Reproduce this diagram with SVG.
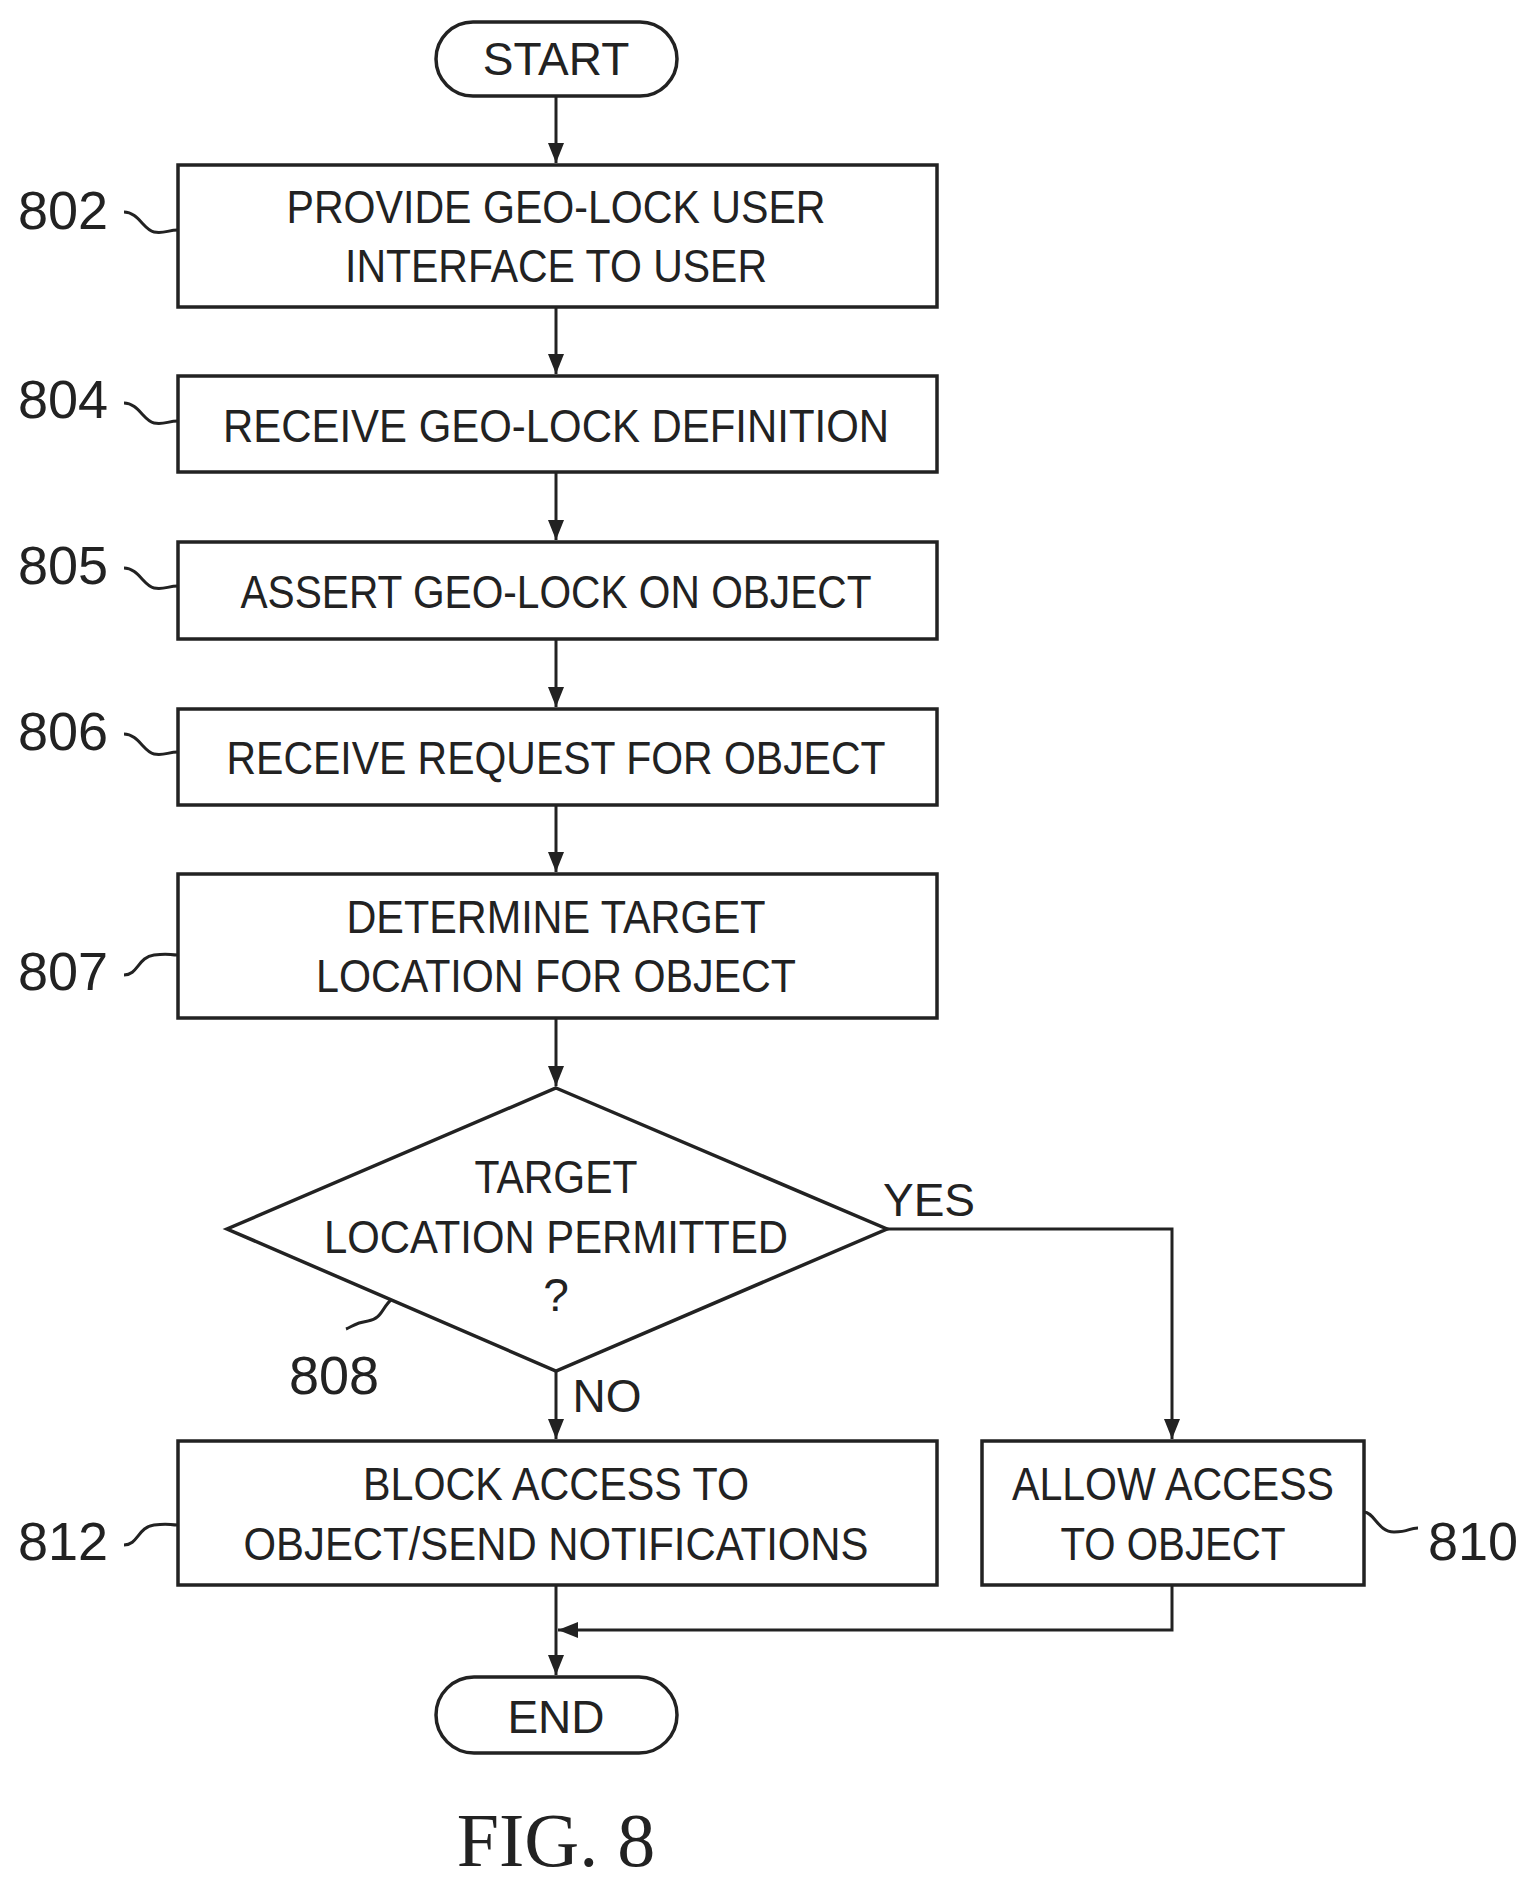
<svg xmlns="http://www.w3.org/2000/svg" width="1535" height="1886" viewBox="0 0 1535 1886">
<style>
.s{fill:#fff;stroke:#222;stroke-width:3.5}
.t{font-family:"Liberation Sans",Arial,sans-serif;font-size:46px;fill:#222;text-anchor:middle}
.r{font-family:"Liberation Sans",Arial,sans-serif;font-size:54px;fill:#222}
.c{fill:none;stroke:#222;stroke-width:3}
</style>
<defs><marker id="a" markerWidth="10" markerHeight="12" refX="9" refY="6" orient="auto" markerUnits="userSpaceOnUse" viewBox="0 0 10 12"><path d="M0,0L10,6L0,12z" fill="#222"/></marker>
<marker id="b" markerWidth="22" markerHeight="16" refX="20" refY="8" orient="auto" markerUnits="userSpaceOnUse"><path d="M0,0L20,8L0,16z" fill="#222"/></marker></defs>
<g id="connectors" class="c">
<path d="M556,96V163" marker-end="url(#b)"/>
<path d="M556,307V374" marker-end="url(#b)"/>
<path d="M556,472V540" marker-end="url(#b)"/>
<path d="M556,639V707" marker-end="url(#b)"/>
<path d="M556,805V872" marker-end="url(#b)"/>
<path d="M556,1018V1086" marker-end="url(#b)"/>
<path d="M556,1371V1439" marker-end="url(#b)"/>
<path d="M887,1229H1172V1439" marker-end="url(#b)"/>
<path d="M556,1585V1675" marker-end="url(#b)"/>
<path d="M1172,1585V1630H558" marker-end="url(#b)"/>
<path d="M124,212c14,0 20,18 30,20s14,-2 24,-2"/>
<path d="M124,403c14,0 20,18 30,20s14,-2 24,-2"/>
<path d="M124,568c14,0 20,18 30,20s14,-2 24,-2"/>
<path d="M124,734c14,0 20,18 30,20s14,-2 24,-2"/>
<path d="M124,975c14,0 14,-18 30,-20s14,0 24,0"/>
<path d="M124,1545c14,0 14,-18 30,-20s14,0 24,0"/>
<path d="M1364,1512c10,0 14,20 30,20s14,-4 24,-4"/>
<path d="M392,1299c-10,8 -10,20 -24,22s-16,6 -22,8"/>
</g>
<g id="start"><rect class="s" x="436" y="22" width="241" height="74" rx="37"/><text class="t" x="556" y="75">START</text></g>
<g id="n802"><rect class="s" x="178" y="165" width="759" height="142"/><text class="t" x="556" y="223" textLength="539" lengthAdjust="spacingAndGlyphs">PROVIDE GEO-LOCK USER</text><text class="t" x="556" y="282" textLength="422" lengthAdjust="spacingAndGlyphs">INTERFACE TO USER</text><text class="r" x="18" y="229">802</text></g>
<g id="n804"><rect class="s" x="178" y="376" width="759" height="96"/><text class="t" x="556" y="442" textLength="666" lengthAdjust="spacingAndGlyphs">RECEIVE GEO-LOCK DEFINITION</text><text class="r" x="18" y="418">804</text></g>
<g id="n805"><rect class="s" x="178" y="542" width="759" height="97"/><text class="t" x="556" y="608" textLength="631" lengthAdjust="spacingAndGlyphs">ASSERT GEO-LOCK ON OBJECT</text><text class="r" x="18" y="584">805</text></g>
<g id="n806"><rect class="s" x="178" y="709" width="759" height="96"/><text class="t" x="556" y="774" textLength="659" lengthAdjust="spacingAndGlyphs">RECEIVE REQUEST FOR OBJECT</text><text class="r" x="18" y="750">806</text></g>
<g id="n807"><rect class="s" x="178" y="874" width="759" height="144"/><text class="t" x="556" y="933" textLength="419" lengthAdjust="spacingAndGlyphs">DETERMINE TARGET</text><text class="t" x="556" y="992" textLength="480" lengthAdjust="spacingAndGlyphs">LOCATION FOR OBJECT</text><text class="r" x="18" y="990">807</text></g>
<g id="n808"><path class="s" d="M556,1088L887,1229L556,1371L227,1229z"/><text class="t" x="556" y="1193" textLength="163" lengthAdjust="spacingAndGlyphs">TARGET</text><text class="t" x="556" y="1253" textLength="464" lengthAdjust="spacingAndGlyphs">LOCATION PERMITTED</text><text class="t" x="556" y="1311">?</text><text class="r" x="289" y="1394">808</text><text class="t" x="929" y="1216">YES</text><text class="t" x="607" y="1412">NO</text></g>
<g id="n812"><rect class="s" x="178" y="1441" width="759" height="144"/><text class="t" x="556" y="1500" textLength="386" lengthAdjust="spacingAndGlyphs">BLOCK ACCESS TO</text><text class="t" x="556" y="1560" textLength="625" lengthAdjust="spacingAndGlyphs">OBJECT/SEND NOTIFICATIONS</text><text class="r" x="18" y="1560">812</text></g>
<g id="n810"><rect class="s" x="982" y="1441" width="382" height="144"/><text class="t" x="1173" y="1500" textLength="322" lengthAdjust="spacingAndGlyphs">ALLOW ACCESS</text><text class="t" x="1173" y="1560" textLength="225" lengthAdjust="spacingAndGlyphs">TO OBJECT</text><text class="r" x="1428" y="1560">810</text></g>
<g id="end"><rect class="s" x="436" y="1677" width="241" height="76" rx="38"/><text class="t" x="556" y="1733">END</text></g>
<text x="556" y="1866" font-family="'Liberation Serif',serif" font-size="76" fill="#222" text-anchor="middle">FIG. 8</text>
</svg>
